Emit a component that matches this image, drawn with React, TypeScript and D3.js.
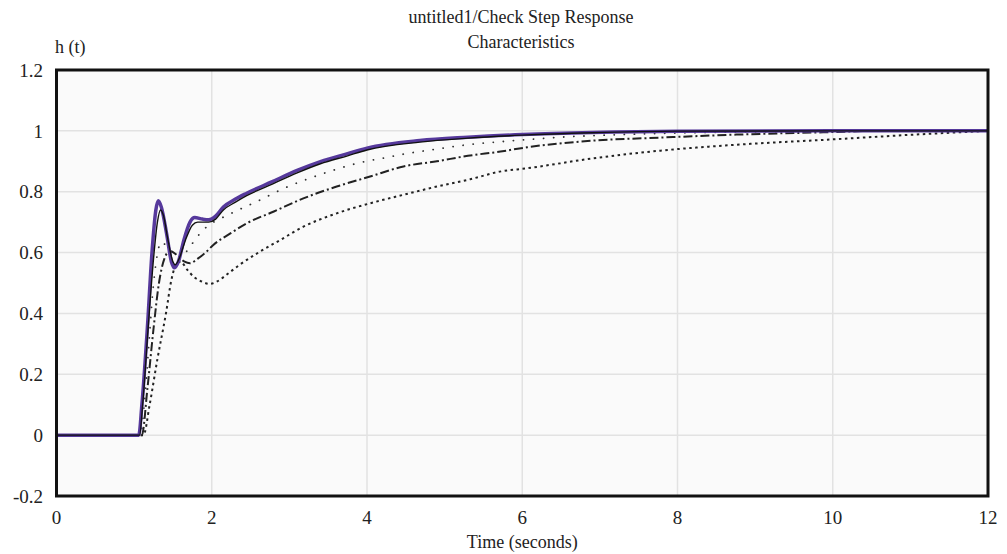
import React from "react";
import * as d3 from "d3";

const titleLines = ["untitled1/Check Step Response", "Characteristics"];
const yLabel = "h (t)";
const xLabel = "Time (seconds)";
const xTicks = [0, 2, 4, 6, 8, 10, 12];
const yTicks = [-0.2, 0, 0.2, 0.4, 0.6, 0.8, 1, 1.2];
const yTickLabels = ["-0.2", "0", "0.2", "0.4", "0.6", "0.8", "1", "1.2"];

// series: [t, h]
const purpleT = [0, 1.06, 1.1, 1.17, 1.23, 1.28, 1.31, 1.35, 1.42, 1.48, 1.52, 1.57, 1.64, 1.72, 1.78, 1.88, 1.96, 2.05, 2.15, 2.3, 2.45, 2.78, 3.1, 3.4, 3.75, 4.0, 4.68, 5.3, 6.0, 6.9, 8, 10, 12];
const purpleH = [0, 0, 0.1, 0.35, 0.6, 0.74, 0.77, 0.75, 0.66, 0.57, 0.55, 0.57, 0.64, 0.7, 0.715, 0.71, 0.708, 0.72, 0.75, 0.775, 0.795, 0.833, 0.87, 0.899, 0.925, 0.943, 0.968, 0.979, 0.988, 0.995, 0.999, 1.0, 1.0];

const blackT = [0, 1.07, 1.11, 1.18, 1.25, 1.3, 1.34, 1.38, 1.43, 1.5, 1.53, 1.58, 1.66, 1.75, 1.82, 1.96, 2.05, 2.15, 2.3, 2.45, 2.78, 3.1, 3.4, 3.75, 4.0, 4.68, 5.3, 6.0, 6.9, 8, 10, 12];
const blackH = [0, 0, 0.1, 0.35, 0.58, 0.7, 0.74, 0.72, 0.65, 0.57, 0.56, 0.58, 0.64, 0.69, 0.7, 0.7, 0.71, 0.74, 0.765, 0.787, 0.825, 0.862, 0.892, 0.918, 0.937, 0.963, 0.976, 0.986, 0.994, 0.999, 1.0, 1.0];

const sparseT = [0, 1.08, 1.13, 1.19, 1.24, 1.29, 1.35, 1.42, 1.52, 1.6, 1.72, 1.84, 1.96, 2.1, 2.3, 2.6, 2.92, 3.27, 3.56, 3.9, 4.2, 4.55, 4.9, 5.25, 5.85, 6.55, 7.3, 8, 9.1, 10.5, 12];
const sparseH = [0, 0, 0.1, 0.3, 0.47, 0.58, 0.635, 0.62, 0.59, 0.585, 0.62, 0.66, 0.69, 0.71, 0.735, 0.77, 0.81, 0.845, 0.87, 0.895, 0.91, 0.927, 0.94, 0.953, 0.967, 0.98, 0.988, 0.993, 0.997, 1.0, 1.0];

const dashDotT = [0, 1.1, 1.17, 1.25, 1.32, 1.39, 1.46, 1.56, 1.65, 1.72, 1.82, 1.92, 2.02, 2.24, 2.45, 2.8, 3.18, 3.61, 4.04, 4.47, 4.9, 5.3, 5.72, 6.06, 6.92, 7.8, 8.8, 10, 10.6, 12];
const dashDotH = [0, 0, 0.15, 0.35, 0.5, 0.58, 0.605, 0.59, 0.57, 0.565, 0.58, 0.6, 0.625, 0.663, 0.696, 0.735, 0.778, 0.817, 0.85, 0.883, 0.9, 0.918, 0.932, 0.946, 0.968, 0.978, 0.988, 0.996, 1.0, 1.0];

const denseT = [0, 1.12, 1.2, 1.3, 1.41, 1.48, 1.55, 1.6, 1.68, 1.77, 1.87, 1.97, 2.07, 2.18, 2.36, 2.62, 2.88, 3.18, 3.61, 4.04, 4.47, 4.9, 5.33, 5.71, 6.06, 6.92, 7.78, 8.8, 10, 11, 12];
const denseH = [0, 0, 0.1, 0.25, 0.4, 0.51, 0.565, 0.57, 0.545, 0.52, 0.505, 0.497, 0.505, 0.525, 0.56, 0.603, 0.641, 0.685, 0.729, 0.762, 0.79, 0.817, 0.841, 0.866, 0.877, 0.91, 0.935, 0.955, 0.972, 0.987, 1.0];

const W = 1007;
const H = 554;
const font = "'Liberation Serif', 'DejaVu Serif', serif";

export default function App() {
  const x = d3.scaleLinear().domain([0, 12]).range([56.5, 988]);
  const y = d3.scaleLinear().domain([-0.2, 1.2]).range([496, 70]);
  const line = d3
    .line<[number, number]>()
    .x((d) => x(d[0]))
    .y((d) => y(d[1]))
    .curve(d3.curveMonotoneX);
  const zip = (t: number[], h: number[]) => t.map((v, i) => [v, h[i]] as [number, number]);

  const series = [
    { t: denseT, h: denseH, color: "#222", width: 2, dash: "2.5,3.5", cap: "butt" },
    { t: dashDotT, h: dashDotH, color: "#222", width: 2, dash: "9,3,2,3", cap: "butt" },
    { t: sparseT, h: sparseH, color: "#333", width: 1.8, dash: "0.1,10", cap: "round" },
    { t: purpleT, h: purpleH, color: "#56399c", width: 3.5, dash: undefined, cap: "butt" },
    { t: blackT, h: blackH, color: "#111", width: 1.4, dash: undefined, cap: "butt" },
  ];

  const [x0, x1] = x.range();
  const [y0, y1] = y.range();

  return (
    <svg width={W} height={H} style={{ position: "absolute", left: 0, top: 0, background: "#fff" }}>
      <rect x={x0} y={y1} width={x1 - x0} height={y0 - y1} fill="#fafafa" />
      {xTicks.slice(1, -1).map((t) => (
        <line key={"gx" + t} x1={x(t)} x2={x(t)} y1={y1} y2={y0} stroke="#e2e2e2" strokeWidth={1.5} />
      ))}
      {yTicks.slice(1, -1).map((t) => (
        <line key={"gy" + t} x1={x0} x2={x1} y1={y(t)} y2={y(t)} stroke="#e2e2e2" strokeWidth={1.5} />
      ))}
      <defs>
        <clipPath id="plotclip">
          <rect x={x0} y={y1} width={x1 - x0} height={y0 - y1} />
        </clipPath>
      </defs>
      <g clipPath="url(#plotclip)">
        {series.map((s, i) => (
          <path
            key={i}
            d={line(zip(s.t, s.h)) || ""}
            fill="none"
            stroke={s.color}
            strokeWidth={s.width}
            strokeDasharray={s.dash}
            strokeLinecap={s.cap as any}
            strokeLinejoin="round"
          />
        ))}
      </g>
      <rect x={x0} y={y1} width={x1 - x0} height={y0 - y1} fill="none" stroke="#111" strokeWidth={3} />
      {yTicks.map((t, i) => (
        <text key={"ty" + t} x={43} y={y(t)} dy="0.35em" textAnchor="end" fontFamily={font} fontSize={19} fill="#222">
          {yTickLabels[i]}
        </text>
      ))}
      {xTicks.map((t) => (
        <text key={"tx" + t} x={x(t)} y={524} textAnchor="middle" fontFamily={font} fontSize={19} fill="#222">
          {String(t)}
        </text>
      ))}
      <text x={x(6) - 0} y={548} textAnchor="middle" fontFamily={font} fontSize={18} fill="#222">
        {xLabel}
      </text>
      <text x={55} y={53} fontFamily={font} fontSize={18} fill="#222">
        {yLabel}
      </text>
      {titleLines.map((l, i) => (
        <text key={l} x={521} y={23 + i * 25} textAnchor="middle" fontFamily={font} fontSize={18} fill="#222">
          {l}
        </text>
      ))}
    </svg>
  );
}
